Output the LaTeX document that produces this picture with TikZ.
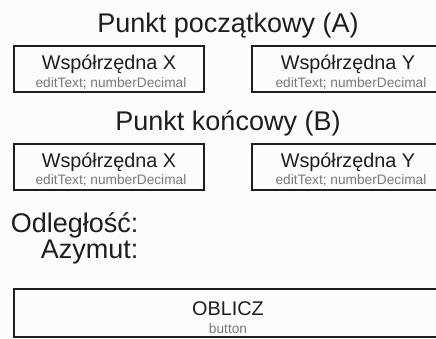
\documentclass[tikz,border=0pt]{standalone}
\usepackage{fontspec}
\setmainfont{Liberation Sans}
\usetikzlibrary{positioning}
\definecolor{paper}{HTML}{FCFCFC}
\definecolor{frameline}{HTML}{1E1E1E}
\definecolor{hintgray}{HTML}{7A7A7A}
\tikzset{
  field/.style={draw=frameline, line width=2pt, inner sep=0pt, minimum height=46pt},
  heading/.style={font=\fontsize{27}{30}\selectfont, text=frameline, anchor=base},
  caption/.style={font=\fontsize{19.8}{22}\selectfont, text=frameline, anchor=base},
  hint/.style={font=\fontsize{13.7}{15}\selectfont, text=hintgray, anchor=base}
}

\begin{document}
\begin{tikzpicture}[x=1pt,y=-1pt]
    \useasboundingbox (0,0) rectangle (436,338);
    \fill[paper] (0,0) rectangle (436,338);
    \clip (0,0) rectangle (436,338);

    % Start point
    \node[heading] (titleA) at (228,32) {Punkt początkowy (A)};
    \node[field, minimum width=190pt] (ax) at (109,69) {};
    \node[field, minimum width=240pt] (ay) at (372,69) {};
    \node[caption] (axname) at (109,69.5) {Współrzędna X};
    \node[hint] (axhint) at (111,87) {editText; numberDecimal};
    \node[caption] (ayname) at (348,69.5) {Współrzędna Y};
    \node[hint] (ayhint) at (351,87) {editText; numberDecimal};

    % End point
    \node[heading] (titleB) at (228,130) {Punkt końcowy (B)};
    \node[field, minimum width=190pt] (bx) at (109,166.5) {};
    \node[field, minimum width=240pt] (by) at (372,166.5) {};
    \node[caption] (bxname) at (109,167.3) {Współrzędna X};
    \node[hint] (bxhint) at (111,184.7) {editText; numberDecimal};
    \node[caption] (byname) at (348,167.3) {Współrzędna Y};
    \node[hint] (byhint) at (351,184.7) {editText; numberDecimal};

    % Results
    \node[heading, anchor=base east] (dist) at (142,232) {Odległość:};
    \node[heading, anchor=base east] (azim) at (142,258.5) {Azymut:};

    % Button
    \node[field, minimum width=480pt, minimum height=48pt] (calc) at (254,313) {};
    \node[caption] (calcname) at (228,315) {OBLICZ};
    \node[hint] (calchint) at (228,333) {button};
\end{tikzpicture}
\end{document}
